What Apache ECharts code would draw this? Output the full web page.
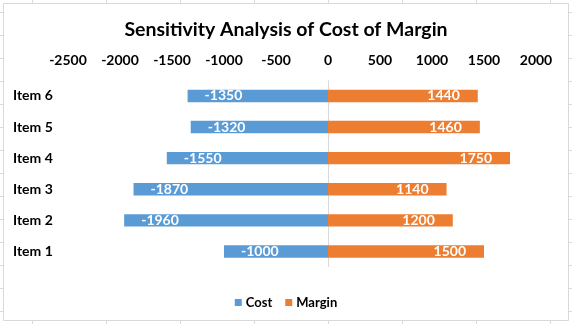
<!DOCTYPE html>
<html>
<head>
<meta charset="utf-8">
<script src="https://cdn.jsdelivr.net/npm/echarts@6/dist/echarts.min.js"></script>
<style>
html,body{margin:0;padding:0;background:#fff;}
#chart{width:572px;height:324px;}
</style>
</head>
<body>
<div id="chart"></div>
<script>
var categories = ['Item 1', 'Item 2', 'Item 3', 'Item 4', 'Item 5', 'Item 6'];
var costValues = [-1000, -1960, -1870, -1550, -1320, -1350];
var marginValues = [1500, 1200, 1140, 1750, 1460, 1440];
var titleText = 'Sensitivity Analysis of Cost of Margin';
var seriesNames = ['Cost', 'Margin'];
var axisMin = -2500, axisMax = 2000, axisStep = 500;

var FONT = 'Lato';
var GRID_C = '#d9d9d9';

// spreadsheet background cells + chart area frame (decoration)
var bg = [];
for (var y = 12; y < 324; y += 23) {
  bg.push({type:'line', z:-10, silent:true, shape:{x1:0,y1:y+0.5,x2:572,y2:y+0.5}, style:{stroke:GRID_C,lineWidth:1}});
}
for (var x = 32; x < 572; x += 74) {
  bg.push({type:'line', z:-10, silent:true, shape:{x1:x+0.5,y1:0,x2:x+0.5,y2:324}, style:{stroke:GRID_C,lineWidth:1}});
}
bg.push({type:'rect', z:-5, silent:true, shape:{x:3.5,y:3.5,width:565,height:317}, style:{fill:'#fff',stroke:GRID_C,lineWidth:1}});

var chart = echarts.init(document.getElementById('chart'), null, {renderer:'canvas'});
chart.setOption({
  animation: false,
  backgroundColor: '#fff',
  graphic: bg,
  title: {
    text: titleText,
    left: 'center',
    top: 15,
    textStyle: {fontFamily: FONT, fontWeight: 'bold', fontSize: 19.5, color: '#000'}
  },
  legend: {
    data: seriesNames,
    left: 'center',
    top: 291,
    icon: 'rect',
    itemWidth: 7,
    itemHeight: 7,
    itemGap: 13,
    textStyle: {fontFamily: FONT, fontWeight: 'bold', fontSize: 13, color: '#000', padding:[0,0,0,-1]}
  },
  grid: {left: 68, right: 36, top: 80.4, bottom: 57, containLabel: false},
  xAxis: {
    type: 'value',
    position: 'top',
    min: axisMin,
    max: axisMax,
    interval: axisStep,
    axisLine: {show: false},
    axisTick: {show: false},
    splitLine: {show: false},
    axisLabel: {fontFamily: FONT, fontWeight: 'bold', fontSize: 14, color: '#000', margin: 13,
      formatter: function (v) { return String(v); }}
  },
  yAxis: {
    type: 'category',
    data: categories,
    axisLine: {show: false},
    axisTick: {show: false},
    axisLabel: {fontFamily: FONT, fontWeight: 'bold', fontSize: 14, color: '#000', align: 'left', margin: 55}
  },
  series: [
    {
      name: seriesNames[0],
      type: 'bar',
      stack: 'total',
      barWidth: '40%',
      data: costValues,
      itemStyle: {color: '#5B9BD5'},
      label: {show: true, position: 'insideLeft', distance: 17, color: '#fff', fontFamily: FONT, fontWeight: 'bold', fontSize: 14},
      markLine: {
        silent: true,
        symbol: ['none','none'],
        label: {show: false},
        lineStyle: {color: GRID_C, type: 'solid', width: 1},
        data: [{xAxis: 0}],
        z: 1
      }
    },
    {
      name: seriesNames[1],
      type: 'bar',
      stack: 'total',
      barWidth: '40%',
      data: marginValues,
      itemStyle: {color: '#ED7D31'},
      label: {show: true, position: 'insideRight', distance: 18, color: '#fff', fontFamily: FONT, fontWeight: 'bold', fontSize: 14}
    }
  ]
});
</script>
</body>
</html>
